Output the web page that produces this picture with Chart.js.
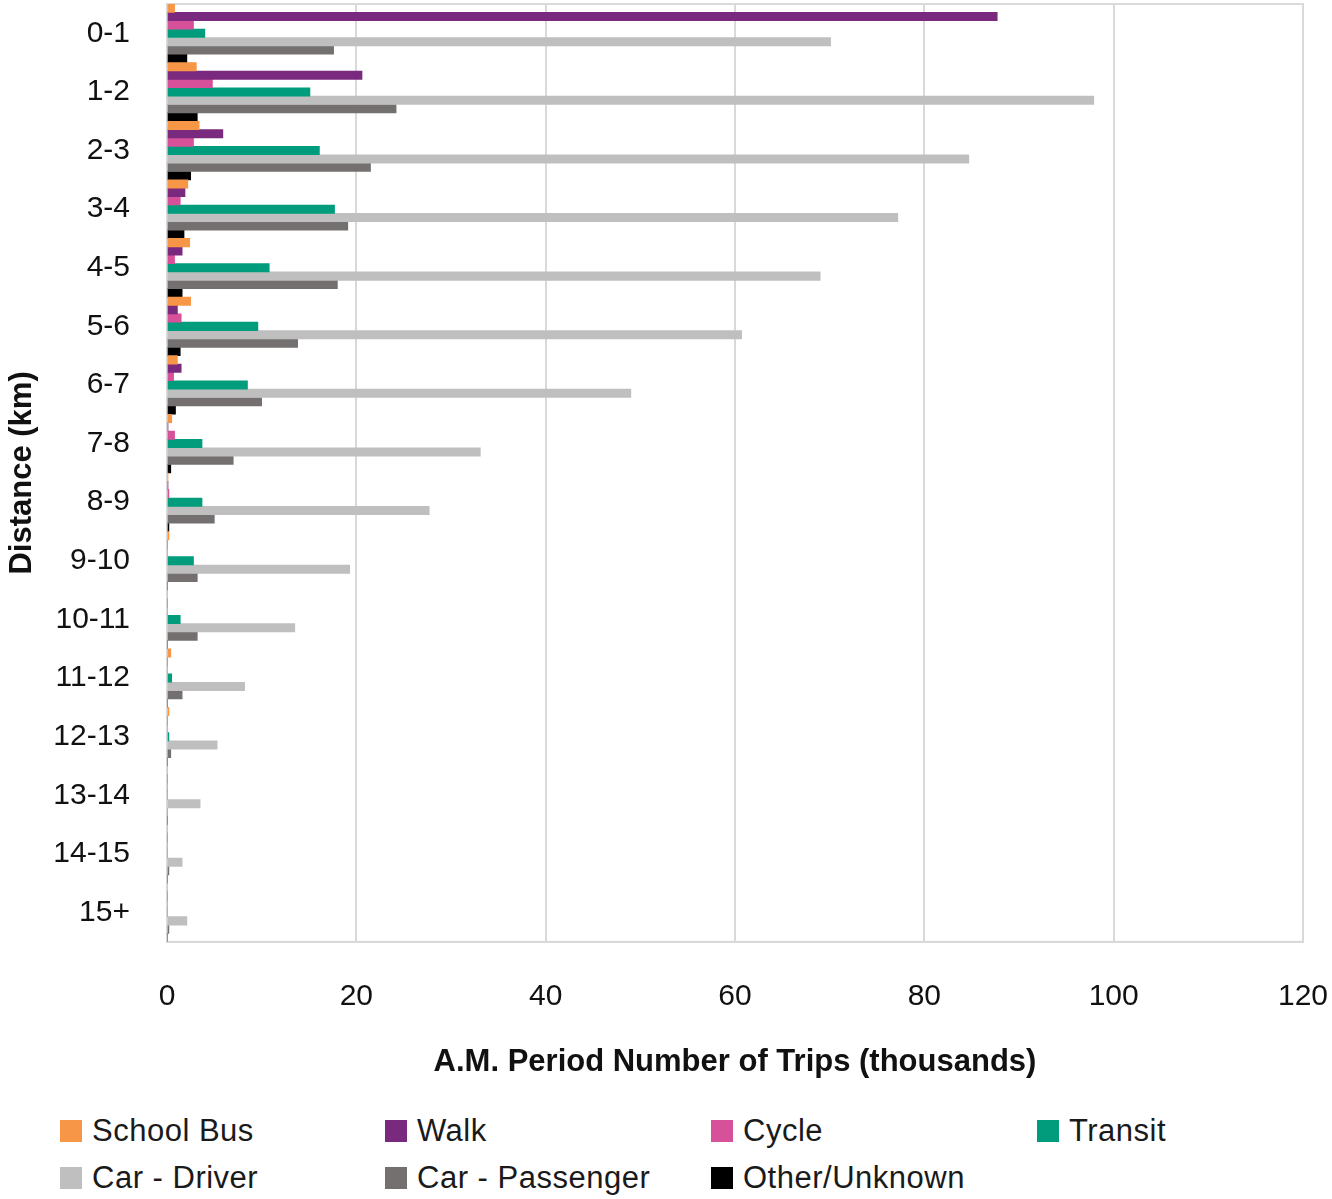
<!DOCTYPE html>
<html>
<head>
<meta charset="utf-8">
<script src="https://cdn.jsdelivr.net/npm/chart.js@4"></script>
<style>
  html, body { margin: 0; padding: 0; background: #fff; overflow: hidden; }
  #wrap { position: relative; width: 1332px; height: 1199px; }
  #chart-box { position: absolute; left: 0; top: 0; width: 1332px; height: 1081px; }
  .legend-item { position: absolute; display: flex; align-items: center; font-family: "Liberation Sans", Arial, sans-serif; font-size: 31px; letter-spacing: 0.5px; color: #1a1a1a; white-space: nowrap; }
  .legend-swatch { width: 22px; height: 22px; margin-right: 10px; }
</style>
</head>
<body>
<div id="wrap">
  <div id="chart-box"><canvas id="trips-chart"></canvas></div>
  <div id="legend"></div>
</div>
<script>
// distance bands (km)
const distances = ['0-1', '1-2', '2-3', '3-4', '4-5', '5-6', '6-7', '7-8', '8-9', '9-10',
                   '10-11', '11-12', '12-13', '13-14', '14-15', '15+'];

// A.M. trips, thousands
const schoolBus    = [0.8, 3.1, 3.4, 2.2, 2.4, 2.5, 1.1, 0.5, 0.1, 0.2, 0, 0.4, 0.2, 0, 0, 0];
const walk         = [87.7, 20.6, 5.9, 1.9, 1.6, 1.1, 1.5, 0.1, 0.1, 0, 0, 0, 0, 0, 0, 0];
const cycle        = [2.8, 4.8, 2.8, 1.4, 0.8, 1.5, 0.7, 0.8, 0.2, 0, 0, 0, 0, 0, 0, 0];
const transit      = [4.0, 15.1, 16.1, 17.7, 10.8, 9.6, 8.5, 3.7, 3.7, 2.8, 1.4, 0.5, 0.2, 0, 0, 0];
const carDriver    = [70.1, 97.9, 84.7, 77.2, 69.0, 60.7, 49.0, 33.1, 27.7, 19.3, 13.5, 8.2, 5.3, 3.5, 1.6, 2.1];
const carPassenger = [17.6, 24.2, 21.5, 19.1, 18.0, 13.8, 10.0, 7.0, 5.0, 3.2, 3.2, 1.6, 0.4, 0, 0.2, 0.2];
const otherUnknown = [2.1, 3.2, 2.5, 1.8, 1.6, 1.4, 0.9, 0.4, 0.2, 0, 0, 0, 0, 0, 0, 0];

const series = [
  { label: 'School Bus',      data: schoolBus,    color: '#F79646' },
  { label: 'Walk',            data: walk,         color: '#7A2A7E' },
  { label: 'Cycle',           data: cycle,        color: '#D6519A' },
  { label: 'Transit',         data: transit,      color: '#009C7C' },
  { label: 'Car - Driver',    data: carDriver,    color: '#BFBFBF' },
  { label: 'Car - Passenger', data: carPassenger, color: '#747070' },
  { label: 'Other/Unknown',   data: otherUnknown, color: '#000000' },
];

const FONT = '"Liberation Sans", Arial, sans-serif';

// frame around the plot area
const frame = {
  id: 'frame',
  beforeDatasetsDraw(chart) {
    const { ctx, chartArea: a } = chart;
    ctx.save();
    ctx.strokeStyle = '#D9D9D9';
    ctx.lineWidth = 2;
    ctx.strokeRect(a.left, a.top, a.right - a.left, a.bottom - a.top);
    ctx.restore();
  }
};

new Chart(document.getElementById('trips-chart'), {
  type: 'bar',
  data: {
    labels: distances,
    datasets: series.map(s => ({
      label: s.label,
      data: s.data,
      backgroundColor: s.color,
      borderWidth: 0,
      categoryPercentage: 1.0,
      barPercentage: 1.0,
    })),
  },
  options: {
    indexAxis: 'y',
    responsive: true,
    maintainAspectRatio: false,
    animation: false,
    layout: { padding: { top: 4, right: 29, left: 4, bottom: 0 } },
    plugins: {
      legend: { display: false },
      tooltip: { enabled: false },
    },
    scales: {
      x: {
        min: 0, max: 120,
        ticks: { stepSize: 20, padding: 37, color: '#111', font: { family: FONT, size: 30 } },
        grid: { color: '#D9D9D9', lineWidth: 2, drawTicks: false },
        border: { color: '#D9D9D9', width: 2 },
        title: {
          display: true,
          text: 'A.M. Period Number of Trips (thousands)',
          color: '#111',
          font: { family: FONT, size: 31, weight: 'bold' },
          padding: { top: -8, bottom: 0 },
        },
        afterFit(scale) { scale.paddingLeft = 0; scale.paddingRight = 0; },
      },
      y: {
        ticks: { padding: 37, color: '#111', font: { family: FONT, size: 30 } },
        grid: { display: false, drawTicks: false },
        border: { color: '#D9D9D9', width: 2 },
        title: {
          display: true,
          text: 'Distance (km)',
          color: '#111',
          font: { family: FONT, size: 31, weight: 'bold' },
          padding: { top: 0, bottom: 0 },
        },
        afterFit(scale) { scale.paddingTop = 0; scale.paddingBottom = 0; scale.width = 163; },
      },
    },
  },
  plugins: [frame],
});

// legend laid out as a 4-column grid
const legendEl = document.getElementById('legend');
const colX = [60, 385, 711, 1037];
const rowY = [1113, 1160];
legendEl.innerHTML = series.map((s, i) => `
  <div class="legend-item" style="left:${colX[i % 4]}px;top:${rowY[Math.floor(i / 4)]}px;">
    <div class="legend-swatch" style="background:${s.color};"></div>
    <span>${s.label}</span>
  </div>`).join('');
</script>
</body>
</html>
